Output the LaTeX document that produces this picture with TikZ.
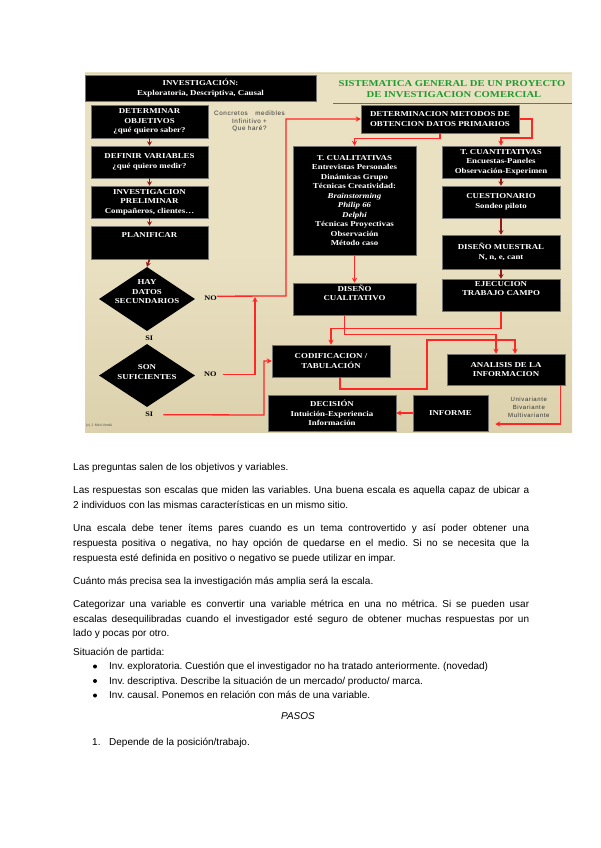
\documentclass[tikz,border=0pt]{standalone}
\usepackage{fontspec}
\setmainfont{Liberation Sans}
\newfontfamily\boxfont[FakeStretch=1.18]{Liberation Serif}
\newfontfamily\smallsans[LetterSpace=10]{Liberation Sans}
\usetikzlibrary{shapes.geometric,arrows.meta,calc}
\definecolor{parch}{HTML}{EAE1C3}
\definecolor{parchdark}{HTML}{DCD1AC}
\definecolor{redln}{HTML}{FF2626}
\definecolor{darkred}{HTML}{8E1A1A}
\definecolor{titlegreen}{HTML}{1F9A30}
\definecolor{blueln}{HTML}{4A6FC8}
\definecolor{pinkln}{HTML}{E8C6D6}
\newcommand\jline[1]{\makebox[456pt][s]{#1}}
\frenchspacing
\begin{document}
\begin{tikzpicture}[x=1pt,y=-1pt,
 box/.style={fill=black, draw=black!55, line width=0.5pt, text=white, font=\boxfont\bfseries\fontsize{7.5}{9.5}\selectfont, align=center, inner sep=0pt},
 dia/.style={diamond, fill=black, inner sep=0pt, shape aspect=1.5},
 boxtext/.style={text=white, font=\boxfont\bfseries\fontsize{7.5}{9.5}\selectfont, align=center, inner sep=0pt},
 lbl/.style={text=black, font=\boxfont\bfseries\fontsize{7}{8}\selectfont, inner sep=0pt},
 note/.style={text=black!80, font=\smallsans\fontsize{6.3}{8}\selectfont, inner sep=0pt},
 titletext/.style={text=titlegreen, font=\boxfont\bfseries\fontsize{9}{10}\selectfont, inner sep=0pt},
 rarrow/.style={draw=redln, line width=1.3pt, -{Stealth[length=5pt,width=5pt]}},
 darrow/.style={draw=darkred, line width=1.6pt, -{Stealth[length=4.5pt,width=5pt]}},
 body/.style={inner sep=0pt, anchor=base west, font=\fontsize{10}{12}\selectfont, text=black},
 bulletdot/.style={circle, fill=black, inner sep=0pt, minimum size=4pt},
]
\useasboundingbox (0,0) rectangle (600,848);
\fill[white] (0,0) rectangle (600,848);
% diagram background
\shade[top color=parch, bottom color=parchdark, middle color=parch] (85,73) rectangle (572,432);
\draw[pinkln, line width=1pt] (85,73.5) -- (572,73.5);
\draw[blueln, line width=0.8pt] (333,103) -- (572,103);

% title
\node[titletext] (tt1) at (452,84) {SISTEMATICA GENERAL DE UN PROYECTO};
\node[titletext] (tt2) at (454,94.7) {DE INVESTIGACION COMERCIAL};

% left column
\node[box, minimum width=231pt, minimum height=26pt] (inv) at (200.5,88) {INVESTIGACIÓN:\\Exploratoria, Descriptiva, Causal};
\node[box, minimum width=117pt, minimum height=33pt] (obj) at (149.5,121.5) {DETERMINAR\\OBJETIVOS\\¿qué quiero saber?};
\node[box, minimum width=117pt, minimum height=32pt] (var) at (149.5,162) {DEFINIR VARIABLES\\¿qué quiero medir?};
\node[box, minimum width=117pt, minimum height=32pt] (pre) at (149.5,202) {INVESTIGACION\\PRELIMINAR\\Compañeros, clientes…};
\node[box, minimum width=117pt, minimum height=33pt] (plan) at (149.5,242.5) {};
\node[boxtext] (plant) at (149.5,235) {PLANIFICAR};
\node[dia, minimum width=96pt, minimum height=64pt] (d1) at (147,299) {};
\node[boxtext] (d1t) at (147,292) {HAY\\DATOS\\SECUNDARIOS};
\node[dia, minimum width=96pt, minimum height=63pt] (d2) at (147,375.5) {};
\node[boxtext] (d2t) at (147,372) {SON\\SUFICIENTES};
\node[lbl] (si1) at (149.3,338.7) {SI};
\node[lbl] (si2) at (149.3,414.7) {SI};
\node[lbl] (no1) at (210.5,298.7) {NO};
\node[lbl] (no2) at (210.3,374.7) {NO};

\draw[darrow] (obj.south) -- (var.north);
\draw[darrow] (var.south) -- (pre.north);
\draw[darrow] (pre.south) -- (plan.north);
\draw[darrow] (plan.south) -- (d1.north);

% notes
\node[note] (n1) at (249.5,113.5) {Concretos\hspace{5pt} medibles};
\node[note] (n2) at (249.5,121.5) {Infinitivo +};
\node[note] (n3) at (249.5,129) {Que haré?};
\node[note, font=\smallsans\fontsize{6}{8}\selectfont] (n4) at (528.8,399) {Univariante};
\node[note, font=\smallsans\fontsize{6}{8}\selectfont] (n5) at (528.8,407.3) {Bivariante};
\node[note, font=\smallsans\fontsize{6}{8}\selectfont] (n6) at (528.8,415) {Multivariante};
\node[inner sep=0pt, anchor=west, text=black!70, font=\fontsize{3.5}{4}\selectfont] (cr) at (86,425.5) {(c) J. Miró-Verdú};

% right part
\node[box, minimum width=158pt, minimum height=28pt] (det) at (440,119) {DETERMINACION METODOS DE\\OBTENCION DATOS PRIMARIOS};
\node[box, minimum width=123pt, minimum height=109pt] (cual) at (354.5,200.5) {T. CUALITATIVAS\\Entrevistas Personales\\Dinámicas Grupo\\Técnicas Creatividad:\\\textit{Brainstorming}\\\textit{Philip 66}\\\textit{Delphi}\\Técnicas Proyectivas\\Observación\\Método caso};
\node[box, minimum width=118pt, minimum height=32pt] (cuan) at (501,162) {T. CUANTITATIVAS\\Encuestas-Paneles\\Observación-Experimen};
\node[box, minimum width=118pt, minimum height=32pt] (cues) at (501,202) {CUESTIONARIO\\Sondeo piloto};
\node[box, minimum width=118pt, minimum height=34pt] (mues) at (501,252) {DISEÑO MUESTRAL\\N, n, e, cant};
\node[box, minimum width=118pt, minimum height=32pt] (ejec) at (501,295) {EJECUCION\\TRABAJO CAMPO\\[3pt]};
\node[box, minimum width=123pt, minimum height=32pt] (dcual) at (354.5,299) {DISEÑO\\CUALITATIVO\\[3pt]};
\node[box, minimum width=118pt, minimum height=32pt] (codi) at (331,361) {CODIFICACION /\\TABULACIÓN};
\node[box, minimum width=118pt, minimum height=31pt] (anal) at (506,369.5) {ANALISIS DE LA\\INFORMACION};
\node[box, minimum width=128pt, minimum height=36pt] (deci) at (332,413) {DECISIÓN\\Intuición-Experiencia\\Información};
\node[box, minimum width=75pt, minimum height=36pt] (info) at (450.5,413) {INFORME};

\draw[darrow] (cuan.south) -- (cues.north);
\draw[darrow] (cues.south) -- (mues.north);
\draw[darrow] (mues.south) -- (ejec.north);

% red connectors
\coordinate (j1) at (286,296);
\draw[rarrow] ($(no1.east)+(0,-2.5)$) -- (j1) |- (det.west);
\coordinate (m2) at (255,297);
\draw[rarrow] ($(no2.east)+(6,0)$) -| (m2);
\coordinate (c3) at (264,415);
\draw[rarrow] ($(si2.east)+(10,0)$) -- (c3) |- (codi.west);
\draw[rarrow] (det.south) -- ++(0,5) -| (cual.north);
\coordinate (k5) at (532,138);
\draw[rarrow] (det.east) -| (k5) -| (cuan.north);
\draw[rarrow] (cual.south) -- (dcual.north);
\draw[rarrow] (ejec.south) -- ++(0,17) -| (codi.north);
\draw[rarrow] ($(dcual.south)+(-10,0)$) -- ++(0,19) -| ($(anal.north)+(-10,0)$);
\coordinate (k9a) at (427,389);
\coordinate (k9b) at (427,340);
\draw[rarrow] ($(codi.south)+(9,0)$) |- (k9a) -- (k9b) -| ($(anal.north)+(9,0)$);
\draw[rarrow] ($(anal.south east)+(-4.5,0)$) |- ($(info.east)+(7,11)$);
\draw[rarrow] (info.west) -- (deci.east);

% body text
\node[body] (t1) at (73,470) {Las preguntas salen de los objetivos y variables.};
\node[body] (t2) at (73,493.5) {\jline{Las respuestas son escalas que miden las variables. Una buena escala es aquella capaz de ubicar a}};
\node[body] (t3) at (73,508.5) {2 individuos con las mismas características en un mismo sitio.};
\node[body] (t4) at (73,531) {\jline{Una escala debe tener ítems pares cuando es un tema controvertido y así poder obtener una}};
\node[body] (t5) at (73,546) {\jline{respuesta positiva o negativa, no hay opción de quedarse en el medio. Si no se necesita que la}};
\node[body] (t6) at (73,561) {respuesta esté definida en positivo o negativo se puede utilizar en impar.};
\node[body] (t7) at (73,584) {Cuánto más precisa sea la investigación más amplia será la escala.};
\node[body] (t8) at (73,607) {\jline{Categorizar una variable es convertir una variable métrica en una no métrica. Si se pueden usar}};
\node[body] (t9) at (73,622) {\jline{escalas desequilibradas cuando el investigador esté seguro de obtener muchas respuestas por un}};
\node[body] (t10) at (73,636) {lado y pocas por otro.};
\node[body] (t11) at (73,655) {Situación de partida:};
\node[bulletdot] (bu1) at (95,666.5) {};
\node[body] (b1) at (109,669.5) {Inv. exploratoria. Cuestión que el investigador no ha tratado anteriormente. (novedad)};
\node[bulletdot] (bu2) at (95,681) {};
\node[body] (b2) at (109,684) {Inv. descriptiva. Describe la situación de un mercado/ producto/ marca.};
\node[bulletdot] (bu3) at (95,695.5) {};
\node[body] (b3) at (109,698.5) {Inv. causal. Ponemos en relación con más de una variable.};
\node[body, anchor=base] (pasos) at (298,719.5) {\itshape PASOS};
\node[body] (s1n) at (92,745) {1.};
\node[body] (s1) at (109,745) {Depende de la posición/trabajo.};
\end{tikzpicture}
\end{document}
